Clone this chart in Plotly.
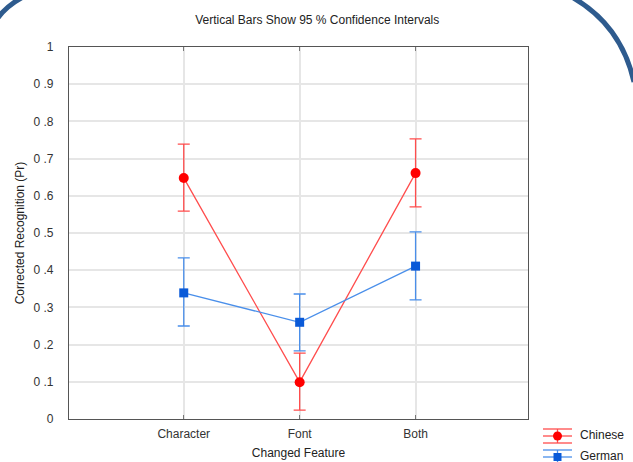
import plotly.graph_objects as go

categories = ["Character", "Font", "Both"]
chinese_mean = [0.648, 0.099, 0.661]
chinese_upper = [0.739, 0.177, 0.753]
chinese_lower = [0.559, 0.024, 0.570]
german_mean = [0.339, 0.260, 0.411]
german_upper = [0.433, 0.336, 0.503]
german_lower = [0.250, 0.183, 0.320]
ytick_vals = [0, 0.1, 0.2, 0.3, 0.4, 0.5, 0.6, 0.7, 0.8, 0.9, 1]
ytick_text = ["0", "0 .1", "0 .2", "0 .3", "0 .4", "0 .5", "0 .6", "0 .7", "0 .8", "0 .9", "1"]

W, H = 633, 462
ML, MR, MT, MB = 69, 105, 47, 43
PW, PH = W - ML - MR, H - MT - MB

def px(x):
    return (x - ML) / PW

def py(y):
    return (H - MB - y) / PH

FONT = "Liberation Sans, Arial, sans-serif"
RED_LINE = "#FF4D4D"
RED_MARK = "#FF0000"
BLUE_LINE = "#4A8FEA"
BLUE_MARK = "#0A5AD8"

fig = go.Figure()

def add_series(name, mean, upper, lower, lcol, mcol, symbol, msize):
    fig.add_trace(go.Scatter(
        x=categories, y=mean, name=name, mode="lines+markers",
        line=dict(color=lcol, width=1.3),
        marker=dict(color=mcol, symbol=symbol, size=msize, line=dict(width=0)),
        error_y=dict(type="data", symmetric=False,
                     array=[u - m for u, m in zip(upper, mean)],
                     arrayminus=[m - l for m, l in zip(mean, lower)],
                     color=lcol, thickness=1.3, width=6),
        showlegend=False,
    ))

add_series("Chinese", chinese_mean, chinese_upper, chinese_lower, RED_LINE, RED_MARK, "circle", 10)
add_series("German", german_mean, german_upper, german_lower, BLUE_LINE, BLUE_MARK, "square", 9)

shapes = []
# custom legend
def legend_item(cy, top_y, bot_y, lcol, mcol, kind):
    x0, x1 = px(543), px(572)
    for yy in [top_y, cy, bot_y]:
        if yy is None:
            continue
        shapes.append(dict(type="line", xref="paper", yref="paper", x0=x0, x1=x1,
                           y0=py(yy), y1=py(yy), line=dict(color=lcol, width=1.3)))
    yb = bot_y if bot_y is not None else H + 5
    shapes.append(dict(type="line", xref="paper", yref="paper", x0=px(557.5), x1=px(557.5),
                       y0=py(top_y), y1=py(yb), line=dict(color=lcol, width=1.3)))
    if kind == "circle":
        shapes.append(dict(type="circle", xref="paper", yref="paper",
                           x0=px(553), x1=px(562), y0=py(431.5), y1=py(440.5),
                           fillcolor=mcol, line=dict(width=0)))
    else:
        shapes.append(dict(type="rect", xref="paper", yref="paper",
                           x0=px(553.5), x1=px(561.5), y0=py(453), y1=py(461),
                           fillcolor=mcol, line=dict(width=0)))

legend_item(436, 429, 443, RED_LINE, RED_MARK, "circle")
legend_item(457, 450, None, BLUE_LINE, BLUE_MARK, "square")

# decorative slide border arcs
shapes.append(dict(type="path", xref="paper", yref="paper",
                   path=f"M {px(-3)},{py(19)} Q {px(7)},{py(5)} {px(25)},{py(-4)}",
                   line=dict(color="#2E5B8E", width=5)))
shapes.append(dict(type="path", xref="paper", yref="paper",
                   path=f"M {px(570)},{py(-4)} C {px(603)},{py(14)} {px(625)},{py(42)} {px(634)},{py(82)}",
                   line=dict(color="#2E5B8E", width=5)))

annotations = [
    dict(text="Chinese", xref="paper", yref="paper", x=px(578), y=py(435), xanchor="left",
         yanchor="middle", showarrow=False, font=dict(family=FONT, size=12, color="#222")),
    dict(text="German", xref="paper", yref="paper", x=px(578), y=py(456), xanchor="left",
         yanchor="middle", showarrow=False, font=dict(family=FONT, size=12, color="#222")),
]

fig.update_layout(
    width=W, height=H,
    margin=dict(l=ML, r=MR, t=MT, b=MB, autoexpand=False),
    paper_bgcolor="white", plot_bgcolor="white",
    title=dict(text="Vertical Bars Show 95 % Confidence Intervals",
               x=px(299), xanchor="center", y=1 - 20 / H, yanchor="middle",
               font=dict(family=FONT, size=12, color="#222")),
    font=dict(family=FONT, size=12, color="#333"),
    shapes=shapes, annotations=annotations,
    xaxis=dict(type="category", range=[-0.99, 2.97], automargin=False,
               showgrid=True, gridcolor="#E6E6E6", gridwidth=1.5,
               showline=True, linecolor="#555", linewidth=1.3, mirror="ticks",
               ticks="inside", ticklen=4, tickcolor="#777",
               tickfont=dict(family=FONT, size=12, color="#333"),
               ticklabelstandoff=3,
               title=dict(text="Changed Feature", standoff=9,
                          font=dict(family=FONT, size=12, color="#222")),
               zeroline=False),
    yaxis=dict(range=[0, 1], tickvals=ytick_vals, ticktext=ytick_text, automargin=False,
               showgrid=True, gridcolor="#E6E6E6", gridwidth=1.5,
               showline=True, linecolor="#555", linewidth=1.3, mirror=True,
               ticks="", tickfont=dict(family=FONT, size=12, color="#333"),
               ticklabelstandoff=12,
               title=dict(text="Corrected Recognition (Pr)", standoff=6,
                          font=dict(family=FONT, size=12, color="#222")),
               zeroline=False),
)

fig.write_html("out.html")
